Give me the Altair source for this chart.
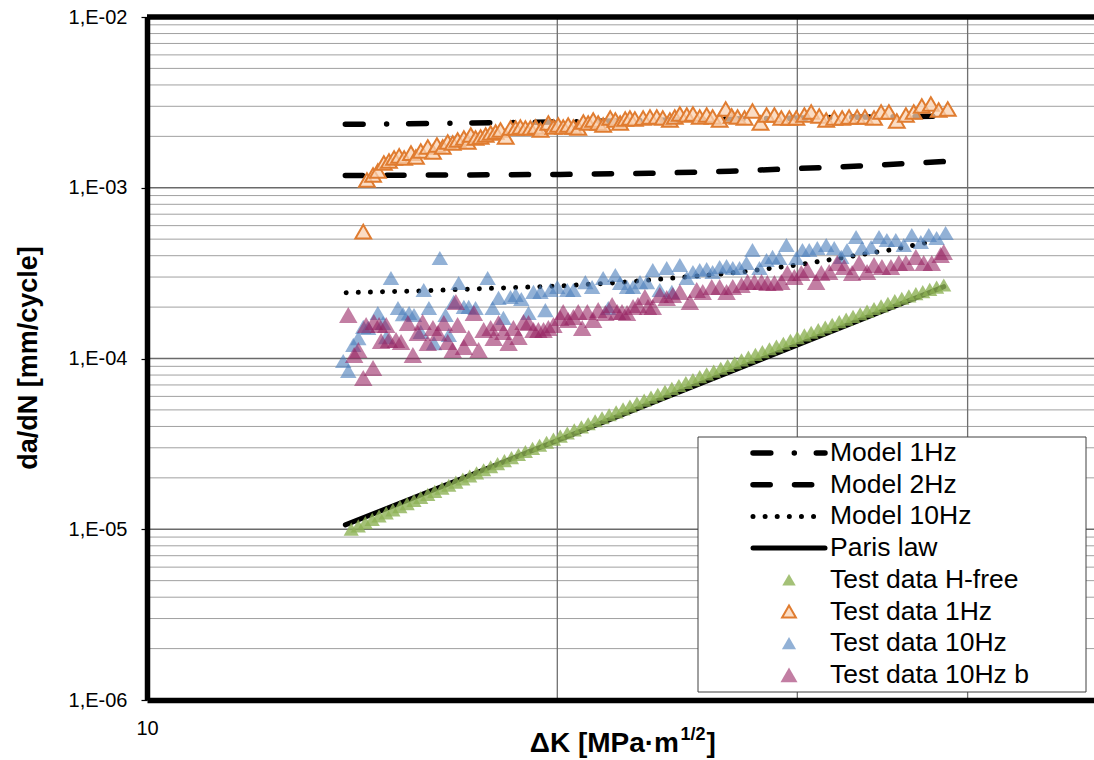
import altair as alt
import pandas as pd

FONT = "Liberation Sans"

# ---------------------------------------------------------------- data
# Test data, hydrogen-free environment
HFREE_DK = [
    14.12, 14.29, 14.46, 14.63, 14.80, 14.98, 15.15, 15.33, 15.52, 15.70,
    15.88, 16.07, 16.26, 16.46, 16.65, 16.85, 17.05, 17.25, 17.45, 17.66,
    17.87, 18.08, 18.29, 18.51, 18.73, 18.95, 19.18, 19.41, 19.64, 19.87,
    20.10, 20.34, 20.58, 20.83, 21.07, 21.32, 21.57, 21.83, 22.09, 22.35,
    22.61, 22.88, 23.16, 23.43, 23.70, 23.99, 24.27, 24.56, 24.85, 25.15,
    25.44, 25.74, 26.05, 26.36, 26.67, 26.99, 27.30, 27.62, 27.95, 28.28,
    28.62, 28.96, 29.30, 29.65, 30.00, 30.36, 30.71, 31.08, 31.45, 31.82,
    32.20, 32.58, 32.96, 33.36, 33.75, 34.15, 34.56, 34.96, 35.37, 35.79,
    36.22, 36.65, 37.08, 37.52, 37.96, 38.42,
]
HFREE_DADN = [
    1.001e-5, 1.046e-5, 1.093e-5, 1.143e-5, 1.195e-5, 1.246e-5, 1.299e-5, 1.356e-5, 1.414e-5, 1.474e-5,
    1.535e-5, 1.600e-5, 1.668e-5, 1.737e-5, 1.811e-5, 1.888e-5, 1.968e-5, 2.051e-5, 2.139e-5, 2.230e-5,
    2.322e-5, 2.421e-5, 2.523e-5, 2.627e-5, 2.739e-5, 2.855e-5, 2.977e-5, 3.104e-5, 3.232e-5, 3.370e-5,
    3.513e-5, 3.663e-5, 3.819e-5, 3.976e-5, 4.145e-5, 4.322e-5, 4.499e-5, 4.684e-5, 4.870e-5, 5.071e-5,
    5.272e-5, 5.489e-5, 5.707e-5, 5.935e-5, 6.171e-5, 6.425e-5, 6.680e-5, 6.946e-5, 7.232e-5, 7.519e-5,
    7.829e-5, 8.128e-5, 8.440e-5, 8.763e-5, 9.101e-5, 9.449e-5, 9.811e-5, 1.019e-4, 1.058e-4, 1.098e-4,
    1.140e-4, 1.184e-4, 1.229e-4, 1.277e-4, 1.326e-4, 1.375e-4, 1.425e-4, 1.476e-4, 1.530e-4, 1.585e-4,
    1.644e-4, 1.702e-4, 1.765e-4, 1.828e-4, 1.893e-4, 1.963e-4, 2.035e-4, 2.108e-4, 2.186e-4, 2.254e-4,
    2.325e-4, 2.398e-4, 2.466e-4, 2.540e-4, 2.616e-4, 2.695e-4,
]

# Test data, 1 Hz
ONE_HZ_DK = [
    14.41, 14.50, 14.65, 14.77, 14.92, 15.05, 15.18, 15.31, 15.44, 15.62,
    15.75, 15.88, 16.07, 16.21, 16.32, 16.48, 16.62, 16.76, 16.90, 17.08,
    17.19, 17.28, 17.42, 17.57, 17.72, 17.87, 18.02, 18.17, 18.33, 18.48,
    18.64, 18.79, 18.95, 19.11, 19.28, 19.44, 19.70, 19.87, 20.03, 20.20,
    20.37, 20.55, 20.72, 20.90, 21.07, 21.25, 21.43, 21.61, 21.87, 22.06,
    22.24, 22.43, 22.61, 22.80, 23.12, 23.39, 23.66, 23.90, 24.19, 24.39,
    24.60, 24.89, 25.15, 25.44, 25.74, 26.00, 26.31, 26.58, 26.85, 27.12,
    27.44, 27.81, 28.19, 28.48, 28.86, 29.20, 29.60, 29.95, 30.36, 30.71,
    31.13, 31.50, 31.93, 32.36, 32.74, 33.19, 33.63, 34.15, 34.56, 35.02,
    35.49, 36.04, 36.52, 37.02, 37.59, 38.09, 38.68,
]
ONE_HZ_DADN = [
    5.530e-4, 1.110e-3, 1.188e-3, 1.253e-3, 1.396e-3, 1.434e-3, 1.494e-3, 1.535e-3, 1.494e-3, 1.597e-3,
    1.514e-3, 1.641e-3, 1.733e-3, 1.619e-3, 1.780e-3, 1.733e-3, 1.853e-3, 1.829e-3, 1.904e-3, 1.956e-3,
    1.853e-3, 2.037e-3, 1.956e-3, 1.983e-3, 2.037e-3, 2.093e-3, 2.121e-3, 2.179e-3, 1.983e-3, 2.238e-3,
    2.238e-3, 2.269e-3, 2.238e-3, 2.238e-3, 2.269e-3, 2.179e-3, 2.394e-3, 2.269e-3, 2.331e-3, 2.269e-3,
    2.331e-3, 2.269e-3, 2.238e-3, 2.427e-3, 2.394e-3, 2.493e-3, 2.394e-3, 2.331e-3, 2.561e-3, 2.493e-3,
    2.394e-3, 2.527e-3, 2.561e-3, 2.527e-3, 2.561e-3, 2.596e-3, 2.596e-3, 2.561e-3, 2.493e-3, 2.596e-3,
    2.703e-3, 2.667e-3, 2.703e-3, 2.596e-3, 2.667e-3, 2.596e-3, 2.493e-3, 2.892e-3, 2.631e-3, 2.596e-3,
    2.561e-3, 2.815e-3, 2.394e-3, 2.667e-3, 2.667e-3, 2.561e-3, 2.561e-3, 2.561e-3, 2.667e-3, 2.777e-3,
    2.631e-3, 2.493e-3, 2.561e-3, 2.561e-3, 2.596e-3, 2.596e-3, 2.596e-3, 2.561e-3, 2.777e-3, 2.777e-3,
    2.460e-3, 2.667e-3, 2.777e-3, 3.012e-3, 3.094e-3, 2.853e-3, 2.892e-3,
]

# Test data, 10 Hz
TEN_HZ_DK = [
    13.93, 14.05, 14.17, 14.29, 14.41, 14.53, 14.77, 14.90, 14.98, 15.10,
    15.28, 15.41, 15.57, 15.70, 15.88, 15.96, 16.10, 16.24, 16.40, 16.56,
    16.65, 16.79, 16.93, 17.08, 17.22, 17.42, 17.78, 17.93, 18.11, 18.26,
    18.48, 18.64, 18.82, 19.05, 19.21, 19.44, 19.60, 19.77, 20.00, 20.34,
    20.55, 20.97, 21.21, 21.61, 21.80, 22.06, 22.24, 22.50, 22.73, 23.00,
    23.27, 23.50, 23.78, 24.06, 24.27, 24.60, 24.89, 25.15, 25.44, 25.74,
    26.00, 26.31, 26.62, 26.90, 27.21, 27.53, 27.81, 28.14, 28.48, 28.77,
    29.10, 29.45, 29.95, 30.26, 30.61, 31.03, 31.50, 31.93, 32.31, 32.63,
    33.13, 33.47, 33.98, 34.44, 34.90, 35.43, 35.91, 36.40, 36.96, 37.46,
    37.96, 38.54,
]
TEN_HZ_DADN = [
    9.668e-5, 8.450e-5, 1.200e-4, 1.318e-4, 1.530e-4, 1.509e-4, 1.847e-4, 1.614e-4, 1.336e-4, 2.961e-4,
    1.976e-4, 1.822e-4, 1.847e-4, 1.798e-4, 1.430e-4, 2.519e-4, 1.976e-4, 1.232e-4, 3.878e-4, 1.798e-4,
    1.373e-4, 2.143e-4, 2.768e-4, 2.003e-4, 2.003e-4, 1.976e-4, 2.961e-4, 1.976e-4, 2.262e-4, 1.727e-4,
    2.292e-4, 2.355e-4, 2.231e-4, 1.847e-4, 2.452e-4, 2.452e-4, 1.923e-4, 2.519e-4, 2.623e-4, 2.519e-4,
    2.519e-4, 2.805e-4, 2.623e-4, 2.961e-4, 1.976e-4, 3.083e-4, 2.768e-4, 2.623e-4, 2.623e-4, 2.805e-4,
    2.805e-4, 3.298e-4, 2.519e-4, 3.389e-4, 2.452e-4, 3.528e-4, 2.961e-4, 3.211e-4, 3.298e-4, 3.343e-4,
    3.211e-4, 3.435e-4, 3.481e-4, 3.389e-4, 3.389e-4, 3.625e-4, 4.320e-4, 3.389e-4, 3.775e-4, 3.931e-4,
    3.878e-4, 4.621e-4, 3.878e-4, 4.320e-4, 4.320e-4, 4.438e-4, 4.621e-4, 4.438e-4, 3.931e-4, 4.320e-4,
    5.147e-4, 4.438e-4, 4.498e-4, 5.147e-4, 4.943e-4, 4.943e-4, 4.621e-4, 5.288e-4, 4.812e-4, 5.288e-4,
    5.078e-4, 5.433e-4,
]

# Test data, 10 Hz (second specimen)
TEN_HZ_B_DK = [
    14.05, 14.19, 14.29, 14.41, 14.48, 14.65, 14.67, 14.80, 14.85, 14.98,
    15.05, 15.23, 15.36, 15.54, 15.67, 15.80, 15.93, 16.07, 16.21, 16.35,
    16.51, 16.62, 16.76, 16.85, 16.90, 17.08, 17.22, 17.37, 17.51, 17.66,
    17.87, 17.96, 18.11, 18.26, 18.42, 18.57, 18.73, 18.89, 19.05, 19.21,
    19.37, 19.54, 19.70, 19.87, 20.10, 20.20, 20.37, 20.55, 20.72, 20.86,
    21.04, 21.25, 21.43, 21.69, 21.94, 22.13, 22.31, 22.50, 22.73, 22.92,
    23.19, 23.31, 23.50, 23.78, 24.06, 24.31, 24.60, 25.02, 25.31, 25.57,
    25.96, 26.31, 26.62, 26.90, 27.30, 27.58, 27.90, 28.24, 28.52, 28.86,
    29.20, 29.50, 29.85, 30.20, 30.51, 30.97, 31.24, 31.66, 32.09, 32.47,
    32.91, 33.30, 33.75, 34.15, 34.61, 35.14, 35.61, 36.04, 36.65, 37.14,
    37.65, 38.22, 38.42,
]
TEN_HZ_B_DADN = [
    1.798e-4, 1.048e-4, 1.121e-4, 7.688e-5, 1.571e-4, 8.799e-5, 1.636e-4, 1.571e-4, 1.266e-4, 1.571e-4,
    1.283e-4, 1.283e-4, 1.249e-4, 1.614e-4, 1.048e-4, 1.410e-4, 1.636e-4, 1.232e-4, 1.509e-4, 1.410e-4,
    1.614e-4, 1.249e-4, 1.121e-4, 2.143e-4, 1.571e-4, 1.168e-4, 1.318e-4, 1.847e-4, 1.121e-4, 1.469e-4,
    1.509e-4, 1.318e-4, 1.614e-4, 1.430e-4, 1.232e-4, 1.509e-4, 1.336e-4, 1.636e-4, 1.614e-4, 1.469e-4,
    1.469e-4, 1.469e-4, 1.509e-4, 1.571e-4, 1.727e-4, 1.872e-4, 1.680e-4, 1.750e-4, 1.872e-4, 1.509e-4,
    1.872e-4, 1.680e-4, 1.923e-4, 1.847e-4, 2.057e-4, 1.872e-4, 1.872e-4, 1.847e-4, 2.003e-4, 2.057e-4,
    2.292e-4, 2.003e-4, 2.003e-4, 2.355e-4, 2.262e-4, 2.355e-4, 2.452e-4, 2.143e-4, 2.519e-4, 2.452e-4,
    2.623e-4, 2.623e-4, 2.452e-4, 2.623e-4, 2.694e-4, 2.805e-4, 2.805e-4, 2.805e-4, 2.768e-4, 2.768e-4,
    2.805e-4, 3.168e-4, 3.001e-4, 3.168e-4, 3.298e-4, 2.805e-4, 3.168e-4, 3.211e-4, 3.625e-4, 3.435e-4,
    3.168e-4, 3.625e-4, 3.211e-4, 3.528e-4, 3.435e-4, 3.435e-4, 3.625e-4, 3.625e-4, 3.931e-4, 3.625e-4,
    3.625e-4, 4.038e-4, 4.205e-4,
]

# Model curves
MODEL_1HZ_DK = [13.98, 20.10, 25.44, 30.10, 38.42]
MODEL_1HZ_DADN = [2.352e-3, 2.427e-3, 2.510e-3, 2.561e-3, 2.631e-3]
MODEL_2HZ_DK = [13.98, 16.70, 20.10, 23.39, 26.76, 30.10, 33.30, 38.42]
MODEL_2HZ_DADN = [1.180e-3, 1.188e-3, 1.196e-3, 1.215e-3, 1.250e-3, 1.297e-3, 1.341e-3, 1.425e-3]
MODEL_10HZ_DK = [14.00, 15.88, 18.17, 20.10, 22.24, 24.60, 27.21, 30.10, 33.30, 35.61, 37.90]
MODEL_10HZ_DADN = [2.430e-4, 2.490e-4, 2.588e-4, 2.659e-4, 2.787e-4, 2.981e-4, 3.198e-4,
                   3.543e-4, 4.038e-4, 4.408e-4, 4.910e-4]
PARIS_DK = [13.98, 38.42]
PARIS_DADN = [1.06e-5, 2.633e-4]

# Axis ticks and grid
DECADES = [1e-6, 1e-5, 1e-4, 1e-3, 1e-2]
MINOR_MULTIPLIERS = [2, 3, 4, 5, 6, 7, 8, 9]
DK_GRID = [20, 30, 40]
DK_LABELS = [10]

LEGEND_NAMES = ["Model 1Hz", "Model 2Hz", "Model 10Hz", "Paris law",
                "Test data H-free", "Test data 1Hz", "Test data 10Hz", "Test data 10Hz b"]

# ---------------------------------------------------------------- layout
W, H = 947, 683
PAD_LEFT, PAD_TOP = 147, 17

x_scale = alt.Scale(type="log", domain=[10, 49.52], nice=False)
y_scale = alt.Scale(type="log", domain=[1e-6, 1e-2], nice=False)

x_axis = alt.Axis(
    values=DK_LABELS, format="d", title=None, grid=False,
    labelFont=FONT, labelFontSize=20, labelColor="black", labelPadding=18,
    labelFlush=False, labelOverlap=False, tickSize=0,
    domainColor="black", domainWidth=5.5, zindex=1,
)
y_axis = alt.Axis(
    values=DECADES, title=None, grid=False,
    labelExpr="'1,E-0' + toString(-round(log(datum.value) / LN10))",
    labelFont=FONT, labelFontSize=20, labelColor="black", labelPadding=14,
    labelOverlap=False, labelBound=False,
    tickSize=6, tickColor="black", tickWidth=1.2,
    domainColor="black", domainWidth=5.5, zindex=1,
)

X = alt.X("K:Q", scale=x_scale, axis=x_axis)
Y = alt.Y("v:Q", scale=y_scale, axis=y_axis)


def frame(dk, dadn):
    return pd.DataFrame({"K": dk, "v": dadn})


one_row = pd.DataFrame({"a": [0]})

minor_grid = pd.DataFrame({"v": [m * d for d in DECADES[:-1] for m in MINOR_MULTIPLIERS]})
major_grid = pd.DataFrame({"v": DECADES[1:-1]})
vert_grid = pd.DataFrame({"K": DK_GRID})

layers = [
    alt.Chart(minor_grid).mark_rule(color="#A0A0A0", strokeWidth=1).encode(y=Y),
    alt.Chart(major_grid).mark_rule(color="#6A6A6A", strokeWidth=1.3).encode(y=Y),
    alt.Chart(vert_grid).mark_rule(color="#707070", strokeWidth=1.3).encode(x=X),
]

# ---------------------------------------------------------------- line styles
LINE_STYLES = {
    "Model 1Hz": dict(strokeWidth=5.5, strokeDash=[17.8, 23.5, 0.01, 22], strokeCap="round"),
    "Model 2Hz": dict(strokeWidth=5.5, strokeDash=[17.2, 24.3], strokeCap="round"),
    "Model 10Hz": dict(strokeWidth=5, strokeDash=[0.01, 12.1], strokeCap="round"),
    "Paris law": dict(strokeWidth=5, strokeCap="round"),
}
LINE_DATA = {
    "Model 1Hz": (MODEL_1HZ_DK, MODEL_1HZ_DADN),
    "Model 2Hz": (MODEL_2HZ_DK, MODEL_2HZ_DADN),
    "Model 10Hz": (MODEL_10HZ_DK, MODEL_10HZ_DADN),
    "Paris law": (PARIS_DK, PARIS_DADN),
}

for name in ["Model 1Hz", "Model 2Hz", "Model 10Hz", "Paris law"]:
    dk, dadn = LINE_DATA[name]
    layers.append(
        alt.Chart(frame(dk, dadn)).mark_line(color="black", **LINE_STYLES[name]).encode(x=X, y=Y)
    )

# ---------------------------------------------------------------- marker styles
MARKER_STYLES = {
    "Test data H-free": dict(filled=True, size=230, color="#8DB255", opacity=0.8),
    "Test data 1Hz": dict(filled=True, size=250, fill="#FAD2B2", fillOpacity=0.75,
                          stroke="#E07C30", strokeWidth=2, strokeOpacity=1),
    "Test data 10Hz": dict(filled=True, size=270, color="#4F81BD", opacity=0.62),
    "Test data 10Hz b": dict(filled=True, size=340, color="#962060", opacity=0.58),
}
LEGEND_SYMBOL_SIZE = {
    "Test data H-free": 180, "Test data 1Hz": 190,
    "Test data 10Hz": 200, "Test data 10Hz b": 290,
}
MARKER_DATA = {
    "Test data H-free": (HFREE_DK, HFREE_DADN),
    "Test data 1Hz": (ONE_HZ_DK, ONE_HZ_DADN),
    "Test data 10Hz": (TEN_HZ_DK, TEN_HZ_DADN),
    "Test data 10Hz b": (TEN_HZ_B_DK, TEN_HZ_B_DADN),
}

for name in ["Test data H-free", "Test data 1Hz", "Test data 10Hz", "Test data 10Hz b"]:
    dk, dadn = MARKER_DATA[name]
    layers.append(
        alt.Chart(frame(dk, dadn))
        .mark_point(shape="triangle-up", **MARKER_STYLES[name])
        .encode(x=X, y=Y)
    )

# top edge of the frame
layers.append(
    alt.Chart(one_row).mark_rule(color="black", strokeWidth=5.5).encode(
        x=alt.value(0), x2=alt.value(W), y=alt.value(0)
    )
)

# ---------------------------------------------------------------- legend box
LEG_X0, LEG_X1, LEG_Y0, LEG_Y1 = 551, 939, 420, 675
SAMPLE_X0, SAMPLE_X1, SYMBOL_X, TEXT_X = 606, 678, 642, 683
ROW_Y0, ROW_STEP = 436, 31.7

layers.append(
    alt.Chart(one_row).mark_rect(fill="white", stroke="#404040", strokeWidth=1).encode(
        x=alt.value(LEG_X0), x2=alt.value(LEG_X1), y=alt.value(LEG_Y0), y2=alt.value(LEG_Y1)
    )
)
for i, name in enumerate(LEGEND_NAMES):
    ry = ROW_Y0 + i * ROW_STEP
    if name in LINE_STYLES:
        layers.append(
            alt.Chart(one_row).mark_rule(color="black", **LINE_STYLES[name]).encode(
                x=alt.value(SAMPLE_X0), x2=alt.value(SAMPLE_X1), y=alt.value(ry)
            )
        )
    else:
        style = dict(MARKER_STYLES[name])
        style["size"] = LEGEND_SYMBOL_SIZE[name]
        layers.append(
            alt.Chart(one_row).mark_point(shape="triangle-up", **style).encode(
                x=alt.value(SYMBOL_X), y=alt.value(ry)
            )
        )
    layers.append(
        alt.Chart(one_row).mark_text(
            align="left", baseline="middle", font=FONT, fontSize=26.5, color="black"
        ).encode(x=alt.value(TEXT_X), y=alt.value(ry), text=alt.value(name))
    )

# ---------------------------------------------------------------- axis titles
layers.append(
    alt.Chart(one_row).mark_text(
        angle=270, align="center", baseline="middle", font=FONT, fontSize=27,
        fontWeight="bold", color="black"
    ).encode(x=alt.value(29 - PAD_LEFT), y=alt.value(358 - PAD_TOP),
             text=alt.value("da/dN [mm/cycle]"))
)
XT_X, XT_BASE = 532, 735
layers.append(
    alt.Chart(one_row).mark_text(
        align="right", baseline="alphabetic", font=FONT, fontSize=28,
        fontWeight="bold", color="black"
    ).encode(x=alt.value(XT_X), y=alt.value(XT_BASE), text=alt.value("\u0394K [MPa\u00b7m"))
)
layers.append(
    alt.Chart(one_row).mark_text(
        align="left", baseline="alphabetic", font=FONT, fontSize=18,
        fontWeight="bold", color="black"
    ).encode(x=alt.value(XT_X + 1.5), y=alt.value(XT_BASE - 12), text=alt.value("1/2"))
)
layers.append(
    alt.Chart(one_row).mark_text(
        align="left", baseline="alphabetic", font=FONT, fontSize=28,
        fontWeight="bold", color="black"
    ).encode(x=alt.value(XT_X + 27.5), y=alt.value(XT_BASE), text=alt.value("]"))
)

chart = (
    alt.layer(*layers)
    .properties(
        width=W, height=H,
        padding={"left": PAD_LEFT, "top": PAD_TOP, "right": 0, "bottom": 60},
        autosize=alt.AutoSizeParams(type="none"),
        background="white",
    )
    .configure_view(stroke=None)
)

chart.save("out.html", embed_options={"renderer": "svg", "actions": False})
